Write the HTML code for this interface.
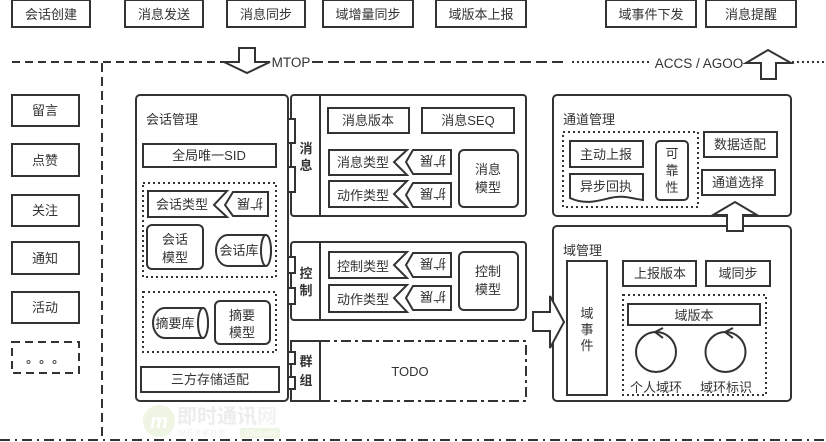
<!DOCTYPE html>
<html>
<head>
<meta charset="utf-8">
<style>
html,body{margin:0;padding:0;background:#fff;}
svg{display:block;}
text{font-family:"Liberation Sans","Noto Sans CJK SC",sans-serif;font-size:13px;fill:#333;text-anchor:middle;}
.s{fill:#fff;stroke:#333;stroke-width:2;}
.n{fill:none;stroke:#333;stroke-width:2;}
.d{fill:none;stroke:#333;stroke-width:2;stroke-dasharray:2 3;}
.b{font-weight:bold;font-size:13px;}
.l{text-anchor:start;}
</style>
</head>
<body>
<svg width="826" height="442" viewBox="0 0 826 442" xmlns="http://www.w3.org/2000/svg">
<!-- top boxes -->
<rect class="s" x="12" y="0" width="78" height="27"/><text x="51" y="19">会话创建</text>
<rect class="s" x="125" y="0" width="78" height="27"/><text x="164" y="19">消息发送</text>
<rect class="s" x="227" y="0" width="78" height="27"/><text x="266" y="19">消息同步</text>
<rect class="s" x="323" y="0" width="90" height="27"/><text x="368" y="19">域增量同步</text>
<rect class="s" x="436" y="0" width="90" height="27"/><text x="481" y="19">域版本上报</text>
<rect class="s" x="606" y="0" width="90" height="27"/><text x="651" y="19">域事件下发</text>
<rect class="s" x="706" y="0" width="90" height="27"/><text x="751" y="19">消息提醒</text>

<!-- separators -->
<line x1="12" y1="62" x2="224" y2="62" stroke="#333" stroke-width="2" stroke-dasharray="8 5"/>
<line x1="312" y1="62" x2="568" y2="62" stroke="#333" stroke-width="2" stroke-dasharray="11 5"/>
<line x1="572" y1="62" x2="652" y2="62" stroke="#333" stroke-width="2" stroke-dasharray="2 3"/>
<line x1="792" y1="62" x2="826" y2="62" stroke="#333" stroke-width="2" stroke-dasharray="2 3"/>
<line x1="102" y1="63" x2="102" y2="438" stroke="#333" stroke-width="2" stroke-dasharray="9 5"/>
<line x1="0" y1="440" x2="826" y2="440" stroke="#333" stroke-width="2" stroke-dasharray="10 5 2 5"/>

<!-- MTOP arrow -->
<polygon class="s" points="224,62 239,62 239,48 255,48 255,62 270,62 247,73"/>
<text x="291" y="67" style="font-size:13.5px">MTOP</text>
<!-- ACCS arrow -->
<text x="699" y="68" style="font-size:13.5px">ACCS / AGOO</text>
<polygon class="s" points="746,63 768,50 791,63 776,63 776,79 761,79 761,63"/>

<!-- left column -->
<rect class="s" x="12" y="95" width="67" height="31"/><text x="45" y="115">留言</text>
<rect class="s" x="12" y="144" width="67" height="32"/><text x="45" y="165">点赞</text>
<rect class="s" x="12" y="195" width="67" height="31"/><text x="45" y="215">关注</text>
<rect class="s" x="12" y="242" width="67" height="32"/><text x="45" y="263">通知</text>
<rect class="s" x="12" y="292" width="67" height="31"/><text x="45" y="312">活动</text>
<rect x="12" y="342" width="67" height="31" fill="#fff" stroke="#333" stroke-width="2" stroke-dasharray="8 5"/>
<circle cx="28.500" cy="362" r="1.500" fill="none" stroke="#555" stroke-width="1"/>
<circle cx="41.500" cy="362" r="1.500" fill="none" stroke="#555" stroke-width="1"/>
<circle cx="54.500" cy="362" r="1.500" fill="none" stroke="#555" stroke-width="1"/>

<!-- 会话管理 -->
<rect class="s" x="136" y="95" width="152" height="306" rx="4"/>
<text class="l" x="146" y="124">会话管理</text>
<rect class="s" x="143" y="144" width="133" height="23"/><text x="209" y="160">全局唯一SID</text>
<rect class="d" x="143" y="183" width="133" height="94"/>
<polygon class="s" points="148,191 227,191 214,205 227,217 148,217"/>
<text x="182" y="209">会话类型</text>
<polygon class="s" points="225,205 233,192 268,192 268,216 233,216"/>
<text x="0" y="0" transform="translate(250,199) rotate(180)">扩展</text>
<rect class="s" x="147" y="225" width="56" height="44" rx="5"/>
<text x="175" y="244">会话</text><text x="175" y="262">模型</text>
<path class="s" d="M228,235H266C268,235 271,242 271,250.500C271,259 268,266 266,266H228C221,266 216,259 216,250.500C216,242 221,235 228,235Z"/>
<ellipse class="s" cx="266" cy="250.500" rx="5" ry="15.500"/>
<text x="239" y="255">会话库</text>

<rect class="d" x="143" y="292" width="133" height="60"/>
<path class="s" d="M165,308H203C205,308 208,315 208,323C208,331 205,338 203,338H165C158,338 153,331 153,323C153,315 158,308 165,308Z"/>
<ellipse class="s" cx="203" cy="323" rx="5" ry="15"/>
<text x="175" y="328">摘要库</text>
<rect class="s" x="215" y="301" width="55" height="43" rx="5"/>
<text x="242" y="320">摘要</text><text x="242" y="337">模型</text>
<rect class="s" x="141" y="367" width="138" height="25"/><text x="210" y="384">三方存储适配</text>

<!-- 消息 panel -->
<rect class="s" x="291" y="95" width="235" height="121" rx="3"/>
<line class="n" x1="320" y1="95" x2="320" y2="216"/>
<rect class="s" x="288" y="119" width="7" height="24"/>
<rect class="s" x="288" y="167" width="7" height="25"/>
<text class="b" x="306" y="153">消</text><text class="b" x="306" y="170">息</text>
<rect class="s" x="328" y="108" width="81" height="25"/><text x="368" y="125">消息版本</text>
<rect class="s" x="422" y="108" width="92" height="25"/><text x="468" y="125">消息SEQ</text>
<polygon class="s" points="329,150 407,150 394,162 407,175 329,175"/><text x="363" y="167">消息类型</text>
<polygon class="s" points="406,162 413,150 451,150 451,174 413,174"/>
<text transform="translate(433,156) rotate(180)">扩展</text>
<polygon class="s" points="329,181 407,181 394,194 407,207 329,207"/><text x="363" y="200">动作类型</text>
<polygon class="s" points="406,195 413,183 451,183 451,207 413,207"/>
<text transform="translate(433,189) rotate(180)">扩展</text>
<rect class="s" x="459" y="150" width="59" height="57" rx="5"/>
<text x="488" y="174">消息</text><text x="488" y="192">模型</text>

<!-- 控制 panel -->
<rect class="s" x="291" y="242" width="235" height="78" rx="3"/>
<line class="n" x1="320" y1="242" x2="320" y2="320"/>
<rect class="s" x="288" y="257" width="7" height="16"/>
<rect class="s" x="288" y="288" width="7" height="16"/>
<text class="b" x="306" y="278">控</text><text class="b" x="306" y="295">制</text>
<polygon class="s" points="329,252 407,252 394,265 407,278 329,278"/><text x="363" y="271">控制类型</text>
<polygon class="s" points="406,265 413,253 451,253 451,277 413,277"/>
<text transform="translate(433,259) rotate(180)">扩展</text>
<polygon class="s" points="329,285 407,285 394,298 407,312 329,312"/><text x="363" y="304">动作类型</text>
<polygon class="s" points="406,298 413,286 451,286 451,310 413,310"/>
<text transform="translate(433,292) rotate(180)">扩展</text>
<rect class="s" x="459" y="252" width="59" height="58" rx="5"/>
<text x="488" y="276">控制</text><text x="488" y="294">模型</text>

<!-- 群组 panel -->
<rect x="320" y="341" width="206" height="60" fill="#fff" stroke="#333" stroke-width="2" stroke-dasharray="10 4 3 4"/>
<rect class="s" x="291" y="341" width="29" height="60"/>
<rect class="s" x="288" y="352" width="7" height="12"/>
<rect class="s" x="288" y="377" width="7" height="12"/>
<text class="b" x="306" y="366">群</text><text class="b" x="306" y="385">组</text>
<text x="410" y="376">TODO</text>

<!-- 通道管理 -->
<rect class="s" x="553" y="95" width="238" height="121" rx="4"/>
<text class="l" x="563" y="124">通道管理</text>
<rect class="d" x="563" y="132" width="135" height="75"/>
<rect class="s" x="570" y="141" width="73" height="26"/><text x="606" y="159">主动上报</text>
<path class="s" d="M570,174H643V200C630,198 622,195 610,198C598,201 585,205 570,198Z"/>
<text x="606" y="191">异步回执</text>
<rect class="s" x="656" y="141" width="32" height="59" rx="4"/>
<text x="672" y="158">可</text><text x="672" y="175">靠</text><text x="672" y="192">性</text>
<rect class="s" x="704" y="132" width="73" height="25"/><text x="740" y="149">数据适配</text>
<rect class="s" x="702" y="170" width="73" height="25"/><text x="738" y="187">通道选择</text>

<!-- 域管理 -->
<rect class="s" x="553" y="226" width="238" height="175" rx="4"/>
<polygon class="s" points="713,215 735,202 757,215 743,215 743,231 727,231 727,215"/>
<text class="l" x="563" y="255">域管理</text>
<rect class="s" x="567" y="261" width="40" height="134"/>
<text x="587" y="318">域</text><text x="587" y="334">事</text><text x="587" y="350">件</text>
<rect class="s" x="623" y="261" width="73" height="25"/><text x="660" y="278">上报版本</text>
<rect class="s" x="706" y="261" width="64" height="25"/><text x="738" y="278">域同步</text>
<rect class="d" x="623" y="295" width="143" height="100"/>
<rect class="s" x="628" y="304" width="132" height="21"/><text x="694" y="320">域版本</text>
<circle class="n" cx="656" cy="352" r="20"/>
<path class="n" d="M663,328L655,332L663,338"/>
<circle class="n" cx="725.500" cy="352" r="20"/>
<path class="n" d="M733,328L725,332L733,338"/>
<text x="656" y="392">个人域环</text>
<text x="726" y="392">域环标识</text>

<!-- right arrow -->
<polygon class="s" points="533,312 550,312 550,296 564,322 550,348 550,331 533,331"/>

<!-- watermark -->
<circle cx="159" cy="421" r="16" fill="#eef5e2"/>
<text x="159" y="428" style="font-size:20px;font-weight:bold;font-style:italic;fill:#fff">m</text>
<text class="l" x="177" y="423" style="font-size:20px;font-weight:bold;fill:#ededed">即时通讯<tspan style="fill:#f3f3f3">网</tspan></text>
<text class="l" x="177" y="436" style="font-size:8px;fill:#f0f0f0">IM开发者社区</text>
<rect x="240" y="428" width="40" height="10" rx="2" fill="#eef5e2"/>
<text x="260" y="436" style="font-size:8px;fill:#fff">52im.net</text>
</svg>
</body>
</html>
